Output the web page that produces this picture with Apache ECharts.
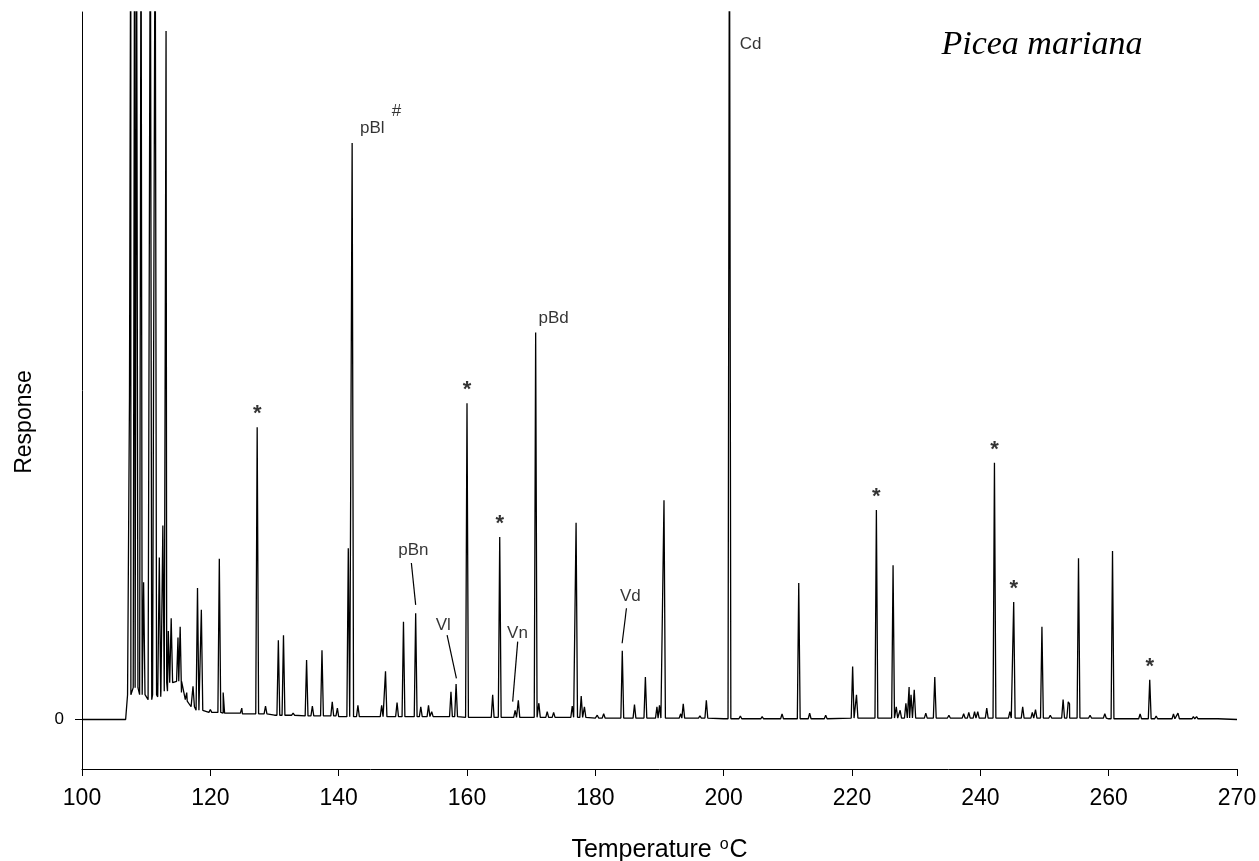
<!DOCTYPE html>
<html>
<head>
<meta charset="utf-8">
<title>Picea mariana</title>
<script src="https://cdn.jsdelivr.net/npm/echarts@6/dist/echarts.min.js"></script>
<style>
html, body { margin: 0; padding: 0; background: #fff; }
#chart { width: 1259px; height: 861px; }
</style>
</head>
<body>
<div id="chart"></div>
<script>
// x axis: ticks are evenly spaced, the last one is printed as 270
const tempTicks = [100, 120, 140, 160, 180, 200, 220, 240, 260, 280];
const tempTickLabels = ['100', '120', '140', '160', '180', '200', '220', '240', '260', '270'];

// baseline / solvent hump
const baseT = [100, 106.8, 107.1, 108, 109, 110, 110.3, 111, 111.8, 112.3, 113.2, 114.2, 114.8, 115.5, 116.4, 117, 118, 119, 120, 122, 125, 130, 135, 140, 150, 160, 170, 180, 190, 200, 220, 240, 260, 280];
const baseY = [0, 0, 3.5, 4.5, 3.5, 3.5, 2.8, 3.5, 3.2, 4.0, 5.2, 5.0, 5.4, 3.8, 2.6, 1.8, 1.3, 1.1, 1.0, 0.9, 0.8, 0.6, 0.5, 0.4, 0.4, 0.3, 0.3, 0.2, 0.2, 0.1, 0.2, 0.2, 0.1, 0.0];

// peak apex positions and heights (heights above 100 run off the top)
const peakT = [107.4, 107.6, 108.2, 108.5, 109.2, 109.6, 110.65, 111.4, 112.05, 112.6, 113.1, 113.45, 113.9, 114.96, 115.3,
  116.1, 117.3, 118.0, 118.6, 120.0, 121.4, 122.0, 122.5, 124.9, 127.3, 128.6, 130.6, 131.4, 132.9, 135.0, 135.9, 137.4, 139.0, 139.8,
  141.5, 142.1, 143.0, 146.7, 147.3, 149.1, 150.1, 152.0, 152.8, 154.0, 154.5, 157.5, 158.3, 160.0, 164.0, 165.1, 167.5, 168.0,
  170.7, 171.2, 172.5, 173.5, 176.4, 177.0, 177.8, 178.3, 180.3, 181.3, 184.2, 186.1, 187.8, 189.6, 190.0, 190.7, 193.3, 193.7,
  196.3, 197.3, 200.9, 202.6, 206.0, 209.1, 211.7, 213.4, 215.9, 220.1, 220.7, 223.8, 226.4, 226.9, 227.5, 228.4, 228.9, 229.2, 229.7,
  231.5, 232.9, 235.1, 237.4, 238.2, 239.1, 239.6, 241.0, 242.2, 244.6, 245.2, 246.6, 248.1, 248.6, 249.6, 250.9, 252.9, 253.7, 253.9,
  255.3, 257.1, 259.4, 260.6, 264.9, 266.4, 267.4, 270.1, 270.8, 273.2, 273.7, 276.8];
const peakTop = [45.6, 120, 120, 120, 120, 19.4, 120, 120, 22.9, 27.4, 97.3, 12.5, 14.3, 11.6, 13.1,
  2.8, 4.7, 18.6, 15.5, 1.4, 22.7, 3.8, 1.1, 1.6, 41.3, 1.9, 11.2, 11.9, 0.9, 8.4, 1.9, 9.8, 2.5, 1.6,
  24.2, 81.5, 2.0, 2.0, 6.8, 2.4, 13.8, 15.0, 1.8, 2.0, 1.1, 3.9, 5.0, 44.7, 3.5, 25.8, 1.3, 2.7,
  54.7, 2.3, 1.1, 1.0, 1.9, 27.8, 3.3, 1.8, 0.6, 0.8, 9.7, 2.1, 6.0, 1.8, 2.0, 31.0, 0.8, 2.2,
  0.5, 2.7, 120, 0.5, 0.4, 0.8, 19.3, 0.9, 0.6, 7.5, 3.5, 29.6, 21.8, 1.8, 1.3, 2.3, 4.6, 3.5, 4.2,
  0.9, 6.0, 0.6, 0.8, 1.0, 1.1, 1.1, 1.6, 36.3, 1.1, 16.6, 1.8, 1.0, 1.4, 13.1, 0.6, 2.8, 2.5, 2.2,
  22.8, 0.6, 0.8, 23.8, 0.8, 5.6, 0.5, 0.8, 0.9, 0.4, 0.4, 0.3];

// peaks marked with *
const starT = [127.3, 160.0, 165.1, 223.8, 242.2, 245.2, 266.4];

// named peaks: label text and where it sits
const nameText = ['pBl', '#', 'pBd', 'Cd', 'pBn', 'Vl', 'Vn', 'Vd'];
const nameT = [145.25, 149.0, 173.5, 204.2, 151.64, 156.3, 167.86, 185.47];
const nameY = [83.6, 85.9, 56.75, 95.5, 23.96, 13.36, 12.23, 17.46];

// leader lines from label to peak
const leaderFrom = [[151.33, 22.12], [156.9, 11.94], [167.9, 11.0], [184.85, 15.72]];
const leaderTo = [[152.0, 16.2], [158.35, 5.82], [167.12, 2.52], [184.18, 10.77]];

const halfWidth = 0.22;
const font = '"Liberation Sans", Arial, sans-serif';

const footLevel = (t) => {
  let v = baseY[0];
  for (let i = 0; i < baseT.length; i++) {
    if (baseT[i] <= t) v = baseY[i];
  }
  return v;
};

const trace = baseT.map((t, i) => [t, baseY[i]]);
peakT.forEach((t, i) => {
  const f = footLevel(t);
  trace.push([t - halfWidth, f], [t, peakTop[i]], [t + halfWidth, f]);
});
trace.sort((a, b) => a[0] - b[0]);

const stars = starT.map((t) => [t, peakTop[peakT.indexOf(t)]]);
const names = nameText.map((s, i) => ({ value: [nameT[i], nameY[i]], name: s }));

const chart = echarts.init(document.getElementById('chart'));
chart.setOption({
  animation: false,
  backgroundColor: '#fff',
  grid: { left: 82, right: 22, top: 12, bottom: 92, outerBoundsMode: 'none' },
  xAxis: {
    type: 'value',
    min: 100,
    max: 280,
    interval: 20,
    name: 'Temperature {sup|o}C',
    nameLocation: 'middle',
    nameGap: 68,
    nameTextStyle: {
      fontFamily: font,
      fontSize: 25,
      color: '#000',
      rich: {
        sup: { fontFamily: font, fontSize: 16, color: '#000', verticalAlign: 'top', padding: [0, 1, 10, 1] }
      }
    },
    axisLine: { onZero: false, lineStyle: { color: '#000', width: 1 } },
    axisTick: { length: 7, lineStyle: { color: '#000' } },
    axisLabel: {
      fontFamily: font,
      fontSize: 23,
      color: '#000',
      margin: 18,
      formatter: (v) => tempTickLabels[tempTicks.indexOf(v)]
    },
    splitLine: { show: false }
  },
  yAxis: {
    type: 'value',
    min: -7,
    max: 100,
    axisLine: { show: true, onZero: false, lineStyle: { color: '#000', width: 1 } },
    axisTick: { show: true, length: 7, customValues: [0], lineStyle: { color: '#000' } },
    axisLabel: { fontFamily: font, fontSize: 17, color: '#000', margin: 18, customValues: [0] },
    splitLine: { show: false }
  },
  graphic: [
    {
      type: 'text',
      x: 25,
      y: 422,
      rotation: Math.PI / 2,
      style: { text: 'Response', fontFamily: font, fontSize: 23, fill: '#000', align: 'center', verticalAlign: 'middle' }
    },
    {
      type: 'text',
      x: 1042,
      y: 45,
      style: { text: 'Picea mariana', fontFamily: '"Liberation Serif", "Times New Roman", serif', fontStyle: 'italic', fontSize: 34, fill: '#000', align: 'center', verticalAlign: 'middle' }
    }
  ],
  series: [
    {
      type: 'line',
      data: trace,
      showSymbol: false,
      symbol: 'none',
      sampling: null,
      lineStyle: { color: '#000', width: 1.3 },
      markLine: {
        silent: true,
        symbol: ['none', 'none'],
        label: { show: false },
        lineStyle: { color: '#000', type: 'solid', width: 1.2 },
        data: leaderFrom.map((p, i) => [{ coord: p }, { coord: leaderTo[i] }])
      }
    },
    {
      type: 'scatter',
      data: stars,
      symbolSize: 0,
      label: {
        show: true,
        position: 'top',
        distance: 2,
        formatter: '*',
        fontFamily: font,
        fontWeight: 'bold',
        fontSize: 22,
        color: '#000'
      }
    },
    {
      type: 'scatter',
      data: names,
      symbolSize: 0,
      label: {
        show: true,
        position: 'inside',
        formatter: (p) => p.name,
        fontFamily: font,
        fontSize: 17,
        color: '#000'
      }
    }
  ]
});
</script>
</body>
</html>
